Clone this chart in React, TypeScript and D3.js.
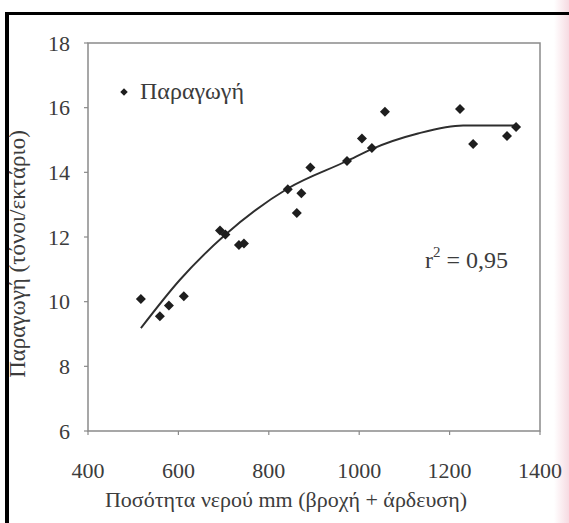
import React from 'react';
import * as d3 from 'd3';

// water applied (mm) and yield (t/ha)
const waterMm = [517, 559, 579, 612, 692, 704, 734, 745, 842, 862, 872, 892, 973, 1006, 1028, 1057, 1223, 1252, 1327, 1347];
const yieldT = [10.08, 9.55, 9.88, 10.17, 12.2, 12.08, 11.75, 11.8, 13.48, 12.74, 13.35, 14.15, 14.35, 15.05, 14.75, 15.87, 15.96, 14.88, 15.12, 15.4];

// fitted trend line
const trendX = [517, 603, 703, 842, 973, 1028, 1130, 1230, 1350];
const trendY = [9.18, 10.67, 12.06, 13.5, 14.35, 14.72, 15.2, 15.45, 15.45];

const xTicks = [400, 600, 800, 1000, 1200, 1400];
const yTicks = [6, 8, 10, 12, 14, 16, 18];

const W = 569;
const H = 523;
const TXT = '#3c3c3c';
const textStyle: React.CSSProperties = {
  fontFamily: "'Liberation Serif'",
  fontSize: 22,
  fill: TXT,
};

export default function App() {
  const x = d3.scaleLinear().domain([400, 1400]).range([88, 540]);
  const y = d3.scaleLinear().domain([6, 18]).range([431, 43]);

  const line = d3.line<number>()
    .x((d) => x(d))
    .y((_, i) => y(trendY[i]))
    .curve(d3.curveMonotoneX);

  const diamond = d3.symbol().type(d3.symbolSquare).size(50)();

  return (
    <svg width={W} height={H} style={{ position: 'absolute', left: 0, top: 0, background: '#fff' }}>
      <defs>
        <linearGradient id="edge" x1="0" x2="1" y1="0" y2="0">
          <stop offset="0" stopColor="#fff" />
          <stop offset="1" stopColor="#f6dbe2" />
        </linearGradient>
      </defs>
      <rect x={0} y={0} width={W} height={H} fill="#fff" />
      <rect x={554} y={0} width={15} height={H} fill="url(#edge)" />

      {/* scan frame */}
      <line x1={7} x2={7} y1={12} y2={H} stroke="#000" strokeWidth={4} />
      <line x1={5} x2={W} y1={13.5} y2={13.5} stroke="#000" strokeWidth={3} />

      {/* plot box */}
      <rect x={x(400)} y={y(18)} width={x(1400) - x(400)} height={y(6) - y(18)}
        fill="none" stroke="#8a8a8a" strokeWidth={1.5} />

      {yTicks.map((t) => (
        <g key={'y' + t}>
          <line x1={x(400) - 4} x2={x(400)} y1={y(t)} y2={y(t)} stroke="#8a8a8a" strokeWidth={1.2} />
          <text x={70} y={y(t)} dy="0.35em" textAnchor="end" style={textStyle}>{t}</text>
        </g>
      ))}
      {xTicks.map((t) => (
        <g key={'x' + t}>
          <line x1={x(t)} x2={x(t)} y1={y(6)} y2={y(6) + 4} stroke="#8a8a8a" strokeWidth={1.2} />
          <text x={x(t)} y={478} textAnchor="middle" style={textStyle}>{t}</text>
        </g>
      ))}

      <path d={line(trendX) || ''} fill="none" stroke="#2e2e2e" strokeWidth={1.9} />

      {waterMm.map((w, i) => (
        <path key={i} d={diamond || ''} transform={`translate(${x(w)},${y(yieldT[i])}) rotate(45)`} fill="#1e1e1e" />
      ))}

      {/* legend */}
      <path d={diamond || ''} transform="translate(124,92) rotate(45) scale(0.75)" fill="#1e1e1e" />
      <text x={140} y={99} style={{ ...textStyle, fontSize: 24 }}>Παραγωγή</text>

      <text x={425} y={268} style={{ ...textStyle, fontSize: 24 }}>
        r<tspan dy={-11} style={{ fontSize: 15 }}>2</tspan><tspan dy={11}> = 0,95</tspan>
      </text>

      <text x={286} y={507} textAnchor="middle" style={textStyle}>
        Ποσότητα νερού mm (βροχή + άρδευση)
      </text>
      <text transform="translate(25,254) rotate(-90)" textAnchor="middle" style={{ ...textStyle, fontSize: 23 }}>
        Παραγωγή (τόνοι/εκτάριο)
      </text>
    </svg>
  );
}
